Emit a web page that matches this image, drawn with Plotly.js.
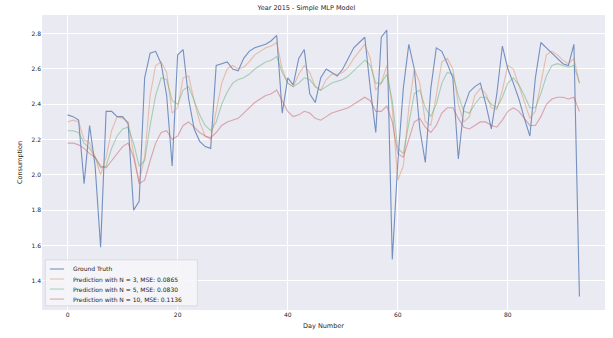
<!DOCTYPE html>
<html>
<head>
<meta charset="utf-8">
<script src="https://cdn.plot.ly/plotly-3.0.1.min.js"></script>
<style>html,body{margin:0;padding:0;background:#fff;}#chart{width:613px;height:338px;}</style>
</head>
<body>
<div id="chart"></div>
<script>
const titleText = "Year 2015 - Simple MLP Model";
const xTitle = "Day Number";
const yTitle = "Consumption";
const seriesNames = ["Ground Truth",
  "Prediction with N = 3, MSE: 0.0865",
  "Prediction with N = 5, MSE: 0.0830",
  "Prediction with N = 10, MSE: 0.1136"];

const groundTruth = [2.34,2.33,2.31,1.95,2.28,2.05,1.59,2.36,2.36,2.33,
  2.33,2.29,1.80,1.85,2.55,2.69,2.70,2.63,2.45,2.05,
  2.68,2.71,2.43,2.26,2.19,2.16,2.15,2.62,2.63,2.64,
  2.60,2.59,2.66,2.70,2.72,2.73,2.74,2.76,2.79,2.35,
  2.55,2.51,2.66,2.71,2.46,2.41,2.55,2.60,2.58,2.56,
  2.60,2.66,2.72,2.75,2.78,2.49,2.24,2.78,2.82,1.52,
  2.07,2.49,2.74,2.60,2.26,2.07,2.49,2.72,2.70,2.63,
  2.55,2.09,2.38,2.47,2.50,2.52,2.40,2.26,2.46,2.73,
  2.60,2.52,2.43,2.32,2.22,2.55,2.75,2.72,2.69,2.66,
  2.63,2.62,2.74,1.31];

const predN3 = [2.30,2.31,2.30,2.20,2.18,2.10,2.00,2.10,2.25,2.33,
  2.32,2.30,2.12,1.96,2.10,2.45,2.62,2.64,2.58,2.35,
  2.38,2.55,2.56,2.42,2.30,2.22,2.20,2.35,2.52,2.60,
  2.62,2.60,2.61,2.64,2.68,2.70,2.72,2.73,2.75,2.60,
  2.52,2.50,2.57,2.62,2.58,2.50,2.48,2.54,2.57,2.57,
  2.58,2.61,2.66,2.70,2.74,2.66,2.48,2.52,2.62,2.38,
  1.97,2.05,2.38,2.60,2.52,2.30,2.28,2.45,2.64,2.66,
  2.60,2.40,2.30,2.33,2.45,2.49,2.46,2.38,2.37,2.48,
  2.62,2.60,2.51,2.42,2.32,2.36,2.52,2.68,2.70,2.68,
  2.65,2.63,2.66,2.52];

const predN5 = [2.25,2.25,2.24,2.18,2.15,2.10,2.04,2.05,2.15,2.22,
  2.26,2.27,2.18,2.05,2.08,2.28,2.45,2.55,2.54,2.42,
  2.40,2.48,2.50,2.42,2.34,2.28,2.25,2.30,2.40,2.47,
  2.52,2.54,2.55,2.57,2.60,2.62,2.64,2.65,2.67,2.58,
  2.52,2.50,2.52,2.55,2.54,2.50,2.48,2.50,2.52,2.53,
  2.54,2.56,2.59,2.62,2.65,2.62,2.52,2.52,2.57,2.42,
  2.15,2.12,2.30,2.46,2.48,2.38,2.33,2.40,2.52,2.58,
  2.57,2.45,2.36,2.35,2.40,2.44,2.44,2.40,2.38,2.44,
  2.52,2.55,2.51,2.45,2.38,2.38,2.46,2.56,2.62,2.63,
  2.62,2.61,2.62,2.52];

const predN10 = [2.18,2.18,2.17,2.15,2.12,2.10,2.05,2.04,2.08,2.12,
  2.16,2.18,2.10,1.95,1.97,2.08,2.18,2.24,2.25,2.20,
  2.22,2.28,2.30,2.27,2.24,2.22,2.21,2.24,2.28,2.30,
  2.31,2.32,2.35,2.38,2.41,2.43,2.45,2.46,2.48,2.42,
  2.36,2.33,2.34,2.36,2.35,2.32,2.31,2.33,2.35,2.36,
  2.37,2.38,2.40,2.42,2.44,2.42,2.36,2.36,2.39,2.30,
  2.12,2.10,2.20,2.30,2.32,2.27,2.24,2.28,2.35,2.38,
  2.38,2.32,2.27,2.26,2.28,2.30,2.30,2.28,2.27,2.31,
  2.36,2.38,2.36,2.32,2.28,2.28,2.33,2.40,2.43,2.44,
  2.44,2.43,2.44,2.36];

const xTicks = [0,20,40,60,80];
const yTicks = [1.4,1.6,1.8,2.0,2.2,2.4,2.6,2.8];

const days = groundTruth.map((_, i) => i);
const allSeries = [groundTruth, predN3, predN5, predN10];
const colors = ["rgba(76,114,176,0.75)", "rgba(221,132,82,0.45)", "rgba(85,168,104,0.45)", "rgba(196,78,82,0.45)"];

const traces = allSeries.map((ys, k) => ({
  x: days, y: ys, type: "scatter", mode: "lines", name: seriesNames[k],
  line: {color: colors[k], width: 1.1}, showlegend: false
}));

// Compact legend (matplotlib-style) drawn with paper-referenced shapes and annotations
const legBox = {x0: 0.006, x1: 0.276, y0: 0.014, y1: 0.170};
const rowTop = 0.139, rowStep = 0.034;
const shapes = [{type: "rect", xref: "paper", yref: "paper", x0: legBox.x0, x1: legBox.x1, y0: legBox.y0, y1: legBox.y1,
  fillcolor: "rgba(246,246,250,0.85)", line: {color: "rgba(210,210,215,0.9)", width: 0.8}, layer: "above"}];
const annotations = [];
seriesNames.forEach((name, k) => {
  const yy = rowTop - k * rowStep;
  shapes.push({type: "line", xref: "paper", yref: "paper", x0: 0.014, x1: 0.039, y0: yy, y1: yy,
    line: {color: colors[k], width: 1.1}, layer: "above"});
  annotations.push({xref: "paper", yref: "paper", x: 0.051, y: yy, xanchor: "left", yanchor: "middle",
    text: name, showarrow: false, font: {size: 6, color: "#262626"}});
});

const layout = {
  width: 613, height: 338,
  margin: {l: 42, r: 8, t: 15, b: 28},
  paper_bgcolor: "#ffffff", plot_bgcolor: "#EAEAF2",
  font: {family: "DejaVu Sans, sans-serif", size: 6, color: "#262626"},
  title: {text: titleText, x: 0.5, xanchor: "center", y: 0.985, yanchor: "top", font: {size: 6.5, color: "#262626"}},
  xaxis: {range: [-4.65, 97.65], tickvals: xTicks, ticktext: xTicks.map(String), showgrid: true, gridcolor: "#ffffff", gridwidth: 1,
    zeroline: false, showline: false, ticks: "", tickfont: {size: 6}, title: {text: xTitle, font: {size: 6.5}, standoff: 6}},
  yaxis: {range: [1.234, 2.906], tickvals: yTicks, ticktext: yTicks.map(v => v.toFixed(1)), showgrid: true, gridcolor: "#ffffff", gridwidth: 1,
    zeroline: false, showline: false, ticks: "", tickfont: {size: 6}, title: {text: yTitle, font: {size: 6.5}, standoff: 8}},
  showlegend: false,
  shapes: shapes,
  annotations: annotations
};

Plotly.newPlot("chart", traces, layout, {displayModeBar: false, staticPlot: true});
</script>
</body>
</html>
